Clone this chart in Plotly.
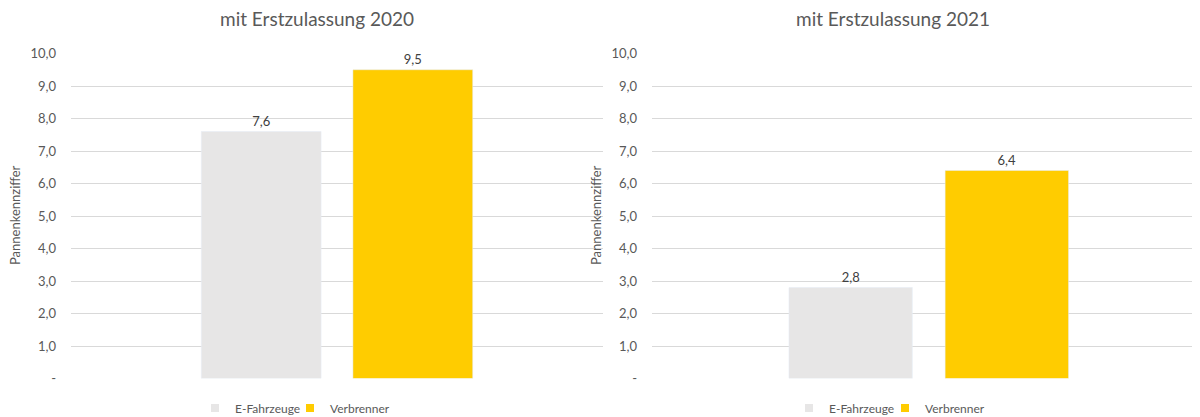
import plotly.graph_objects as go

# ---- data ----
category = [""]
series_names = ["E-Fahrzeuge", "Verbrenner"]
values_2020 = [7.6, 9.5]
values_2021 = [2.8, 6.4]
titles = ["mit Erstzulassung 2020", "mit Erstzulassung 2021"]
y_tickvals = [0, 1, 2, 3, 4, 5, 6, 7, 8, 9, 10]
y_ticktext = ["-", "1,0", "2,0", "3,0", "4,0", "5,0", "6,0", "7,0", "8,0", "9,0", "10,0"]
y_title = "Pannenkennziffer"
colors = ["#e7e6e6", "#ffcc00"]

W, H = 1200, 417
FONT = "Lato, Carlito, Calibri, sans-serif"
GREY = "#595959"

# screen-pixel -> paper-fraction helpers (page offsets compensated)
OX, OY, EH = 8, 16, 401


def px(x):
    return (x - OX) / W


def py(y):
    return 1 - (y - OY) / EH


# one legend box per entry so each swatch can be placed like the original
legend_ids = [["legend", "legend2"], ["legend3", "legend4"]]
legend_x = [[195, 290], [789, 885]]

fig = go.Figure()
for p, (vals, xa, ya) in enumerate([(values_2020, "x", "y"), (values_2021, "x2", "y2")]):
    for i, (name, val) in enumerate(zip(series_names, vals)):
        fig.add_trace(go.Bar(x=category, y=[val], name=name, marker_color=colors[i],
                             xaxis=xa, yaxis=ya, showlegend=False,
                             texttemplate="%{y:.1f}", textposition="outside",
                             textfont=dict(size=13, color="#404040", family=FONT),
                             cliponaxis=False))
        # legend entry with a small square swatch
        fig.add_trace(go.Scatter(x=[None], y=[None], name=name, mode="markers",
                                 marker=dict(symbol="square", size=8, color=colors[i]),
                                 xaxis=xa, yaxis=ya, legend=legend_ids[p][i],
                                 showlegend=True))

ydom = [py(378.5), py(53.5)]
yax = dict(range=[0, 10], tickvals=y_tickvals, ticktext=y_ticktext,
           showgrid=True, gridcolor="#d9d9d9", gridwidth=1, zeroline=False,
           showline=False, ticks="", ticklabelstandoff=14,
           tickfont=dict(size=13, color=GREY, family=FONT),
           domain=ydom, fixedrange=True)
xax = dict(showgrid=False, showticklabels=False, zeroline=False, showline=False, ticks="",
           fixedrange=True)

left_dom = [px(71), px(603)]
right_dom = [px(652), px(1200)]

legend_common = dict(orientation="h", xanchor="left", y=py(408), yanchor="middle",
                     font=dict(size=12, color=GREY, family=FONT), itemwidth=30,
                     bgcolor="rgba(0,0,0,0)")
legends = {}
for p in range(2):
    for i in range(2):
        legends[legend_ids[p][i]] = dict(legend_common, x=px(legend_x[p][i]))

fig.update_layout(
    width=W, height=H, margin=dict(l=0, r=0, t=0, b=0),
    paper_bgcolor="white", plot_bgcolor="white",
    separators=",.",
    barmode="group", bargap=0.43, bargroupgap=0.21,
    font=dict(family=FONT, color=GREY),
    xaxis=dict(xax, domain=left_dom, range=[-0.5, 0.5]),
    xaxis2=dict(xax, domain=right_dom, range=[-0.505, 0.495]),
    yaxis=dict(yax, anchor="x"),
    yaxis2=dict(yax, anchor="x2"),
    annotations=[
        dict(text=titles[0], x=px(317), y=py(19), xref="paper", yref="paper",
             xanchor="center", yanchor="middle", showarrow=False,
             font=dict(size=19, color=GREY, family=FONT)),
        dict(text=titles[1], x=px(893), y=py(19), xref="paper", yref="paper",
             xanchor="center", yanchor="middle", showarrow=False,
             font=dict(size=19, color=GREY, family=FONT)),
        dict(text=y_title, x=px(15), y=py(215), xref="paper", yref="paper",
             xanchor="center", yanchor="middle", textangle=-90, showarrow=False,
             font=dict(size=13, color=GREY, family=FONT)),
        dict(text=y_title, x=px(596), y=py(215), xref="paper", yref="paper",
             xanchor="center", yanchor="middle", textangle=-90, showarrow=False,
             font=dict(size=13, color=GREY, family=FONT)),
    ],
    **legends,
)

fig.write_html("out.html")
